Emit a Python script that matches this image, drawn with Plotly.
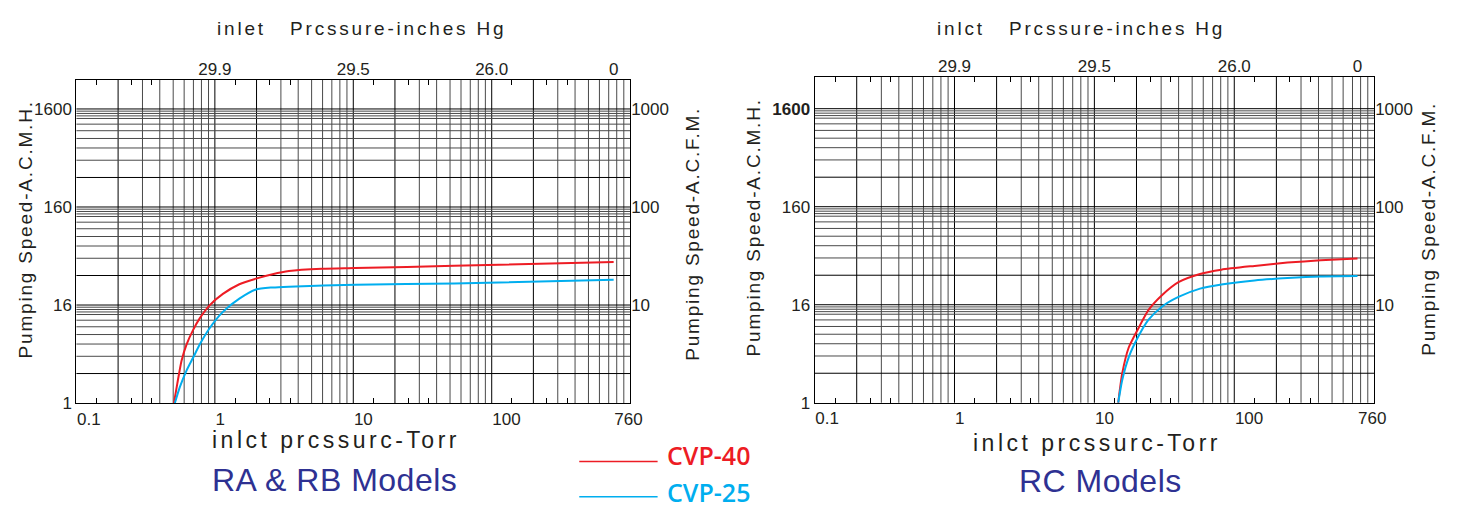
import plotly.graph_objects as go

# ---------------- data ----------------
# RA & RB models  (x: inlet pressure, Torr ; y: pumping speed, A.C.F.M.)
ra_p_cvp40 = [0.506, 0.535, 0.574, 0.624, 0.697, 0.777, 0.916, 1.143, 1.503, 1.98, 2.61, 3.43, 5.94, 10.3, 53.6, 760]
ra_s_cvp40 = [1.0, 1.57, 2.69, 3.95, 5.58, 7.30, 9.93, 12.98, 16.3, 18.6, 20.6, 22.2, 23.4, 23.8, 25.1, 27.5]
ra_p_cvp25 = [0.514, 0.559, 0.624, 0.697, 0.777, 0.916, 1.143, 1.503, 1.98, 2.61, 3.43, 10.3, 53.6, 760]
ra_s_cvp25 = [1.0, 1.46, 2.14, 2.91, 3.95, 5.80, 8.51, 11.6, 14.4, 15.1, 15.4, 16.1, 16.6, 18.1]

# RC models
rc_p = [14.8, 15.8, 17.6, 20.7, 24.4, 30.4, 39.9, 56.9, 80.9, 139.6, 240, 414, 760]
rc_s_cvp40 = [1.0, 1.98, 3.66, 5.80, 8.85, 12.5, 17.0, 20.6, 22.8, 24.9, 26.9, 28.4, 29.7]
rc_s_cvp25 = [1.0, 1.70, 2.91, 4.79, 7.03, 9.55, 12.0, 14.6, 16.1, 17.7, 18.7, 19.4, 19.6]

# axis tick labels
torr_tickvals = [0.1, 1, 10, 100, 760]
torr_ticktext = ["0.1", "1", "10", "100", "760"]
inhg_tickvals = [1, 10, 100, 760]
inhg_ticktext = ["29.9", "29.5", "26.0", "0"]
acfm_tickvals = [1, 10, 100, 1000]
acmh_ticktext = ["1", "16", "160", "1600"]
acmh_ticktext_rc = ["1", "16", "160", "<b>1600</b>"]
acfm_right_tickvals = [10, 100, 1000]
acfm_right_ticktext = ["10", "100", "1000"]
minor_torr_ticks = [0.14, 0.25, 0.35, 1.4, 2.5, 3.5, 14, 25, 35, 140, 250, 350]

series_names = ["CVP-40", "CVP-25"]
RED = "#ed1c24"
BLUE = "#00aeef"
NAVY = "#2e3192"
FONT = "Liberation Sans, Arial, sans-serif"
W, H = 1458, 507

fig = go.Figure()

def px_x(p):
    return p / W

def px_y(p):
    return 1 - p / H

panels = [
    dict(x="x", xt="x2", y="y", y2="y2", dx=(69, 627.3), dy=(73.3, 403), ytop=3.297,
         lt=acmh_ticktext,
         data=[(ra_p_cvp40, ra_s_cvp40, RED, series_names[0]), (ra_p_cvp25, ra_s_cvp25, BLUE, series_names[1])]),
    dict(x="x3", xt="x4", y="y3", y2="y4", dx=(813.3, 1377.5), dy=(70, 402.7), ytop=3.327,
         lt=acmh_ticktext_rc,
         data=[(rc_p, rc_s_cvp40, RED, series_names[0]), (rc_p, rc_s_cvp25, BLUE, series_names[1])]),
]

def axkey(a):
    return a.replace("x", "xaxis").replace("y", "yaxis")

layout_axes = {}
shapes = []
for pn in panels:
    dom_x = [px_x(pn["dx"][0]), px_x(pn["dx"][1])]
    dom_y = [px_y(pn["dy"][1]), px_y(pn["dy"][0])]
    xr = [-1, 3]
    yr = [0, pn["ytop"]]
    tick_font = dict(family=FONT, size=17, color="#231f20")
    layout_axes[axkey(pn["x"])] = dict(
        type="log", range=xr, domain=dom_x, anchor=pn["y"],
        tickmode="array", tickvals=torr_tickvals, ticktext=torr_ticktext,
        ticks="", ticklabelposition="outside right", tickfont=tick_font,
        showgrid=False, zeroline=False, showline=True, linecolor="#000", linewidth=1.2, mirror=True,
        minor=dict(tickmode="array", tickvals=minor_torr_ticks, ticks="inside", ticklen=5,
                   tickcolor="#000", tickwidth=1, showgrid=False),
    )
    layout_axes[axkey(pn["xt"])] = dict(
        type="log", range=xr, overlaying=pn["x"], side="top", anchor=pn["y"],
        tickmode="array", tickvals=inhg_tickvals, ticktext=inhg_ticktext,
        ticks="", tickfont=tick_font, showgrid=False, zeroline=False,
        minor=dict(tickmode="array", tickvals=minor_torr_ticks, ticks="inside", ticklen=5,
                   tickcolor="#000", tickwidth=1, showgrid=False),
    )
    layout_axes[axkey(pn["y"])] = dict(
        type="log", range=yr, domain=dom_y, anchor=pn["x"],
        tickmode="array", tickvals=acfm_tickvals, ticktext=pn["lt"], ticks="",
        tickfont=tick_font, showgrid=False, zeroline=False,
        showline=True, linecolor="#000", linewidth=1.2, mirror=True,
    )
    layout_axes[axkey(pn["y2"])] = dict(
        type="log", range=yr, overlaying=pn["y"], side="right", anchor=pn["x"],
        tickmode="array", tickvals=acfm_right_tickvals, ticktext=acfm_right_ticktext, ticks="",
        tickfont=tick_font, showgrid=False, zeroline=False,
    )
    # graph-paper grid (log decades)
    for n in (-1, 0, 1, 2):
        for k in range(1, 10):
            v = k * 10 ** n
            if v <= 0.1 + 1e-9:
                continue
            shapes.append(dict(type="line", xref=pn["x"], yref=pn["y"] + " domain",
                               x0=v, x1=v, y0=0, y1=1, layer="below",
                               line=dict(color="#000" if k in (1, 2) else "#4a4a4a", width=1)))
    for n in (0, 1, 2):
        for k in (2, 3, 4, 5, 6, 7, 8, 8.5, 9, 9.5, 10):
            v = k * 10 ** n
            shapes.append(dict(type="line", xref=pn["x"] + " domain", yref=pn["y"],
                               x0=0, x1=1, y0=v, y1=v, layer="below",
                               line=dict(color="#000" if k in (2, 10) else "#4a4a4a", width=1)))
    for (xs, ys, col, name) in pn["data"]:
        fig.add_trace(go.Scatter(x=xs, y=ys, mode="lines", name=name,
                                 xaxis=pn["x"], yaxis=pn["y"], showlegend=False,
                                 line=dict(color=col, width=2, shape="spline", smoothing=0.6)))
    # empty helper trace so the secondary (label-only) axes are instantiated
    fig.add_trace(go.Scatter(x=[None], y=[None], mode="lines", xaxis=pn["xt"], yaxis=pn["y2"],
                             showlegend=False, hoverinfo="skip"))

# legend drawn as sample lines + coloured labels
shapes.append(dict(type="line", xref="paper", yref="paper", x0=px_x(576), x1=px_x(655),
                   y0=px_y(462.5), y1=px_y(462.5), line=dict(color=RED, width=1.5)))
shapes.append(dict(type="line", xref="paper", yref="paper", x0=px_x(576), x1=px_x(655),
                   y0=px_y(498.5), y1=px_y(498.5), line=dict(color=BLUE, width=1.5)))

nb = "\u00a0"
annotations = []
def ann(text, x, y, size, color="#231f20", angle=0, family=FONT, xanchor="center", spacing=None, weight="normal"):
    if spacing:
        text = '<span style="letter-spacing:%spx">%s</span>' % (spacing, text)
    annotations.append(dict(text=text, xref="paper", yref="paper", x=px_x(x), y=px_y(y),
                            showarrow=False, textangle=angle, xanchor=xanchor, yanchor="middle",
                            font=dict(family=family, size=size, color=color, weight=weight)))

ann("inlet" + nb * 3 + "Prcssure-inches Hg", 356, 21, 19, spacing=2.8)
ann("inlct" + nb * 3 + "Prcssure-inches Hg", 1082, 21, 19, spacing=2.8)
ann("inlct prcssurc-Torr", 331, 441, 23, spacing=3.5)
ann("inlct prcssurc-Torr", 1098, 444, 23, spacing=3.5)
ann("RA &amp; RB Models", 329, 481, 32, NAVY, spacing=0.5)
ann("RC Models", 1102, 483, 32, NAVY, spacing=0.5)
ann("Pumping Speed-A.C.M.H.", 18, 226, 19, angle=-90, spacing=1.8)
ann("Pumping Speed-A.C.F.M.", 690, 230, 19, angle=-90, spacing=1.8)
ann("Pumping Speed-A.C.M.H.", 752, 224, 19, angle=-90, spacing=1.8)
ann("Pumping Speed-A.C.F.M.", 1432, 225, 19, angle=-90, spacing=1.8)
ann(series_names[0], 662, 456, 25, RED, family="Open Sans, sans-serif", xanchor="left", weight=600)
ann(series_names[1], 662, 494, 25, BLUE, family="Open Sans, sans-serif", xanchor="left", weight=600)

fig.update_layout(
    width=W, height=H, margin=dict(l=0, r=0, t=0, b=0),
    paper_bgcolor="white", plot_bgcolor="white",
    showlegend=False, shapes=shapes, annotations=annotations,
    **layout_axes,
)

fig.write_html("out.html")
